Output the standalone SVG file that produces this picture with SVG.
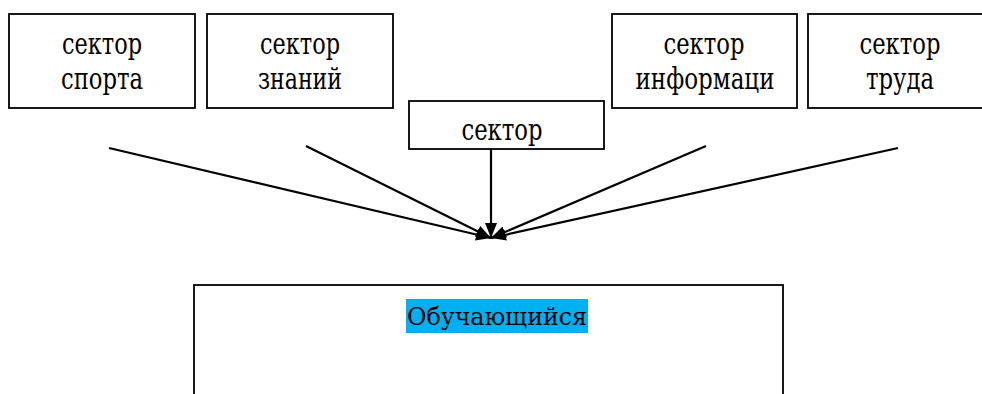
<svg xmlns="http://www.w3.org/2000/svg" width="982" height="394" viewBox="0 0 982 394">
<style>
.box{fill:#fff;stroke:#000;stroke-width:1.8}
.t{font-family:'DejaVu Serif Condensed','DejaVu Serif','Liberation Serif',serif;font-size:29px;fill:#000;text-anchor:middle}
.b{font-family:'DejaVu Serif Condensed','DejaVu Serif','Liberation Serif',serif;font-size:25px;fill:#000;text-anchor:middle}
.c{stroke:#000;stroke-width:2.2;fill:none}
</style>
<defs>
<marker id="ah" viewBox="0 0 15 12" refX="15" refY="6" markerWidth="15" markerHeight="12" markerUnits="userSpaceOnUse" orient="auto">
<path d="M0,0 L15,6 L0,12 z" fill="#000"/>
</marker>
</defs>
<rect width="982" height="394" fill="#fff"/>
<g id="node-sport">
<rect class="box" x="9" y="14" width="186" height="94"/>
<text class="t" x="102" y="54" textLength="80" lengthAdjust="spacingAndGlyphs">сектор</text>
<text class="t" x="102" y="89" textLength="82" lengthAdjust="spacingAndGlyphs">спорта</text>
</g>
<g id="node-znaniy">
<rect class="box" x="207" y="14" width="186" height="94"/>
<text class="t" x="300" y="54" textLength="80" lengthAdjust="spacingAndGlyphs">сектор</text>
<text class="t" x="300" y="89" textLength="84" lengthAdjust="spacingAndGlyphs">знаний</text>
</g>
<g id="node-center">
<rect class="box" x="409" y="101" width="195" height="48"/>
<text class="t" x="502" y="140" textLength="81" lengthAdjust="spacingAndGlyphs">сектор</text>
</g>
<g id="node-info">
<rect class="box" x="612" y="14" width="185" height="94"/>
<text class="t" x="704" y="54" textLength="81" lengthAdjust="spacingAndGlyphs">сектор</text>
<text class="t" x="705" y="89" textLength="139" lengthAdjust="spacingAndGlyphs">информаци</text>
</g>
<g id="node-trud">
<rect class="box" x="808" y="14" width="186" height="94"/>
<text class="t" x="900" y="54" textLength="81" lengthAdjust="spacingAndGlyphs">сектор</text>
<text class="t" x="900" y="89" textLength="68" lengthAdjust="spacingAndGlyphs">труда</text>
</g>
<g id="node-student">
<rect class="box" x="194" y="285" width="589" height="130"/>
<rect x="406" y="299" width="182" height="34" fill="#00B0F0"/>
<text class="b" x="497" y="325" textLength="180" lengthAdjust="spacingAndGlyphs">Обучающийся</text>
</g>
<g id="connectors">
<line class="c" x1="109" y1="148" x2="491" y2="238" marker-end="url(#ah)"/>
<line class="c" x1="306" y1="146" x2="491" y2="238" marker-end="url(#ah)"/>
<line class="c" x1="491" y1="149" x2="491" y2="238" marker-end="url(#ah)"/>
<line class="c" x1="706" y1="146" x2="491" y2="238" marker-end="url(#ah)"/>
<line class="c" x1="898" y1="148" x2="491" y2="238" marker-end="url(#ah)"/>
</g>
</svg>
